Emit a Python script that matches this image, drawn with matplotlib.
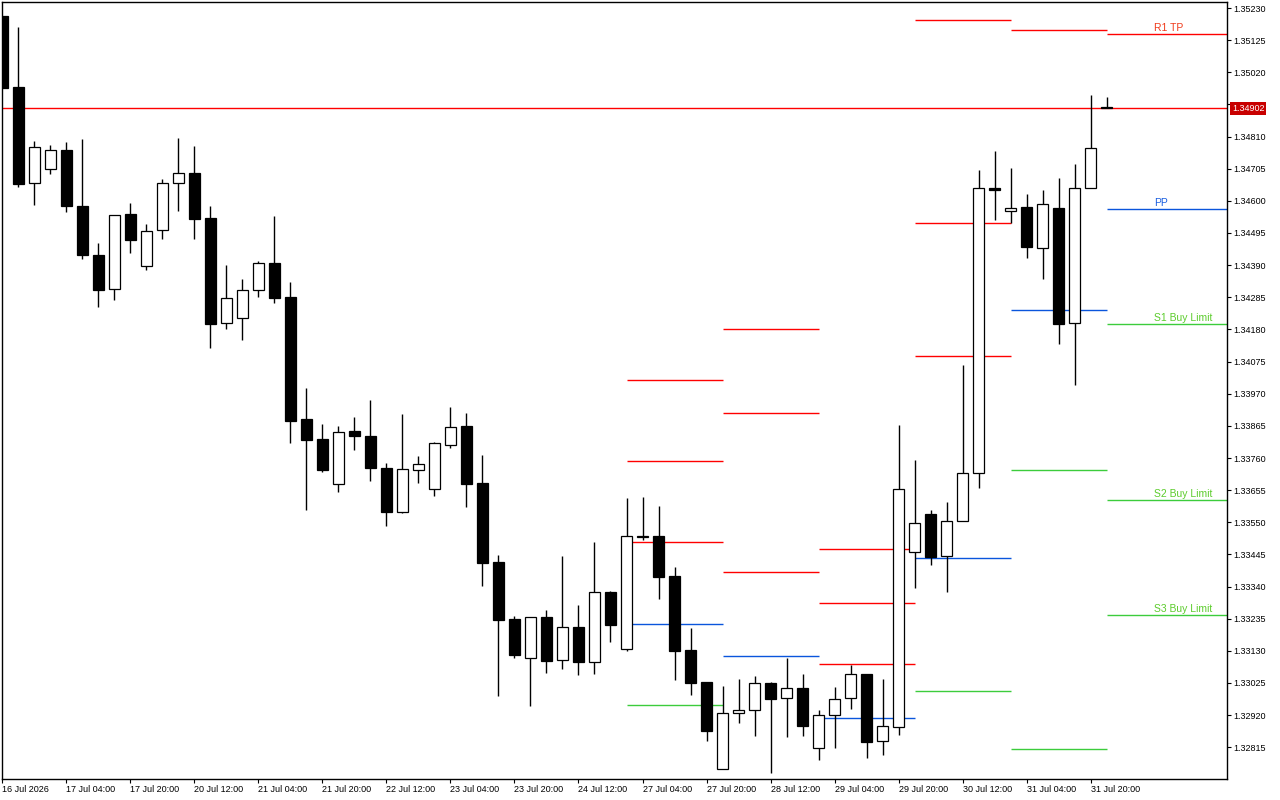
import numpy as np
import matplotlib.pyplot as plt

# 4h bars, 16 Jul 2026 12:00 onwards
opens = [1.35204, 1.34972, 1.34658, 1.34704, 1.34766, 1.34583, 1.34423, 1.34312, 1.34557, 1.34387,
         1.34505, 1.34658, 1.34691, 1.34544, 1.34201, 1.34217, 1.34309, 1.34397, 1.34286, 1.33887,
         1.33822, 1.33675, 1.33848, 1.33832, 1.33727, 1.33584, 1.33721, 1.33659, 1.33802, 1.33865,
         1.33678, 1.33420, 1.33234, 1.33107, 1.33241, 1.33100, 1.33208, 1.33094, 1.33322, 1.33136,
         1.33502, 1.33505, 1.33375, 1.33133, 1.33028, 1.32744, 1.32927, 1.32937, 1.33025, 1.32976,
         1.33009, 1.32813, 1.32920, 1.32976, 1.33054, 1.32836, 1.32881, 1.33453, 1.33577, 1.33440,
         1.33554, 1.33711, 1.34642, 1.34568, 1.34580, 1.34447, 1.34577, 1.34200, 1.34641, 1.34906]
highs = [1.35204, 1.35168, 1.34796, 1.34782, 1.34792, 1.34802, 1.34462, 1.34554, 1.34593, 1.34524,
         1.34671, 1.34805, 1.34779, 1.34583, 1.34390, 1.34345, 1.34404, 1.34551, 1.34335, 1.33989,
         1.33871, 1.33865, 1.33894, 1.33949, 1.33744, 1.33904, 1.33767, 1.33812, 1.33927, 1.33907,
         1.33770, 1.33443, 1.33244, 1.33241, 1.33263, 1.33440, 1.33280, 1.33486, 1.33326, 1.33629,
         1.33633, 1.33603, 1.33404, 1.33205, 1.33028, 1.33015, 1.33038, 1.33048, 1.33028, 1.33107,
         1.33054, 1.32937, 1.33012, 1.33084, 1.33054, 1.33038, 1.33868, 1.33753, 1.33590, 1.33616,
         1.34064, 1.34701, 1.34763, 1.34707, 1.34622, 1.34635, 1.34675, 1.34720, 1.34946, 1.34939]
lows = [1.34969, 1.34645, 1.34586, 1.34688, 1.34564, 1.34410, 1.34253, 1.34276, 1.34430, 1.34374,
        1.34475, 1.34567, 1.34475, 1.34119, 1.34181, 1.34145, 1.34286, 1.34266, 1.33809, 1.33590,
        1.33714, 1.33649, 1.33786, 1.33685, 1.33538, 1.33580, 1.33678, 1.33636, 1.33793, 1.33600,
        1.33342, 1.32983, 1.33107, 1.32950, 1.33058, 1.33071, 1.33051, 1.33054, 1.33159, 1.33130,
        1.33492, 1.33299, 1.33035, 1.32986, 1.32836, 1.32744, 1.32894, 1.32852, 1.32731, 1.32849,
        1.32852, 1.32773, 1.32813, 1.32940, 1.32780, 1.32790, 1.32855, 1.33335, 1.33410, 1.33322,
        1.33554, 1.33662, 1.34537, 1.34528, 1.34413, 1.34346, 1.34133, 1.33998, 1.34641, 1.34902]
closes = [1.34969, 1.34655, 1.34776, 1.34766, 1.34583, 1.34423, 1.34309, 1.34554, 1.34472, 1.34502,
          1.34658, 1.34691, 1.34541, 1.34198, 1.34283, 1.34309, 1.34397, 1.34283, 1.33881, 1.33819,
          1.33721, 1.33845, 1.33832, 1.33727, 1.33584, 1.33724, 1.33740, 1.33809, 1.33861, 1.33675,
          1.33417, 1.33231, 1.33116, 1.33241, 1.33097, 1.33208, 1.33094, 1.33322, 1.33214, 1.33505,
          1.33505, 1.33371, 1.33130, 1.33025, 1.32868, 1.32927, 1.32937, 1.33025, 1.32973, 1.33009,
          1.32885, 1.32920, 1.32973, 1.33054, 1.32832, 1.32885, 1.33659, 1.33548, 1.33437, 1.33554,
          1.33711, 1.34642, 1.34634, 1.34576, 1.34450, 1.34590, 1.34199, 1.34641, 1.34772, 1.34902]

current_price = 1.34902

x_labels = ["16 Jul 2026", "17 Jul 04:00", "17 Jul 20:00", "20 Jul 12:00", "21 Jul 04:00",
            "21 Jul 20:00", "22 Jul 12:00", "23 Jul 04:00", "23 Jul 20:00", "24 Jul 12:00",
            "27 Jul 04:00", "27 Jul 20:00", "28 Jul 12:00", "29 Jul 04:00", "29 Jul 20:00",
            "30 Jul 12:00", "31 Jul 04:00", "31 Jul 20:00"]
y_ticks = [1.32815, 1.32920, 1.33025, 1.33130, 1.33235, 1.33340, 1.33445, 1.33550, 1.33655,
           1.33760, 1.33865, 1.33970, 1.34075, 1.34180, 1.34285, 1.34390, 1.34495, 1.34600,
           1.34705, 1.34810, 1.34915, 1.35020, 1.35125, 1.35230]

# daily pivot levels (bar where each day starts / ends)
seg_start = [39, 45, 51, 57, 63, 69]
seg_end = [45, 51, 57, 63, 69, 77]
nan = np.nan
r3 = [1.34015, 1.34181, 1.33463, 1.35191, nan, nan]
r2 = [1.33750, 1.33907, 1.33286, 1.34528, nan, nan]
r1 = [1.33486, 1.33388, 1.33087, 1.34093, 1.35158, 1.35145]
pp = [1.33218, 1.33113, 1.32911, 1.33433, 1.34243, 1.34573]
s1 = [1.32953, nan, nan, 1.32999, 1.33721, 1.34198]
s2 = [nan, nan, nan, nan, 1.32809, 1.33623]
s3 = [nan, nan, nan, nan, nan, 1.33247]

level_labels = ["R1 TP", "PP", "S1 Buy Limit", "S2 Buy Limit", "S3 Buy Limit"]

RED = "#ff0000"
BLUE = "#0a55dc"
GREEN = "#3ccc3c"

plt.rcParams['font.family'] = ['Liberation Sans', 'DejaVu Sans']

fig = plt.figure(figsize=(12.8, 8), dpi=100)
ax = fig.add_axes([2 / 1280, 21 / 800, 1225 / 1280, 777 / 800])

o = np.array(opens)
h = np.array(highs)
lo = np.array(lows)
c = np.array(closes)
x = np.arange(len(o))
up = c >= o

ax.vlines(x, lo, h, color="black", lw=1.0, zorder=3)
ax.bar(x, np.abs(c - o), 0.66, np.minimum(o, c),
       color=np.where(up, "white", "black"), edgecolor="black", linewidth=0.9, zorder=4)

starts = np.array(seg_start, dtype=float)
ends = np.array(seg_end, dtype=float)
for level, col in [(r3, RED), (r2, RED), (r1, RED), (pp, BLUE), (s1, GREEN), (s2, GREEN), (s3, GREEN)]:
    v = np.array(level)
    m = ~np.isnan(v)
    ax.hlines(v[m], starts[m], ends[m], colors=col, lw=1.0, zorder=2)

ax.axhline(current_price, color=RED, lw=1.0, zorder=2)

last = [r1[-1], pp[-1], s1[-1], s2[-1], s3[-1]]
label_cols = ["#f03a1a", "#1a5fe0", "#5ccc2c", "#5ccc2c", "#5ccc2c"]
for txt, val, col in zip(level_labels, last, label_cols):
    ax.annotate(txt, xy=(71.95, val), xytext=(0, 2), textcoords="offset points",
                ha="left", va="baseline", fontsize=7.5, color=col, zorder=5)

ax.set_xlim(-0.03, 76.53)
ax.set_ylim(1.327114, 1.352496)

ax.yaxis.tick_right()
ax.set_yticks(y_ticks)
ax.set_yticklabels([f"{v:.5f}" for v in y_ticks])
ax.tick_params(axis="y", direction="out", length=3, width=0.8, pad=1.5, labelsize=6.5)

ax.set_xticks(np.arange(0, 4 * len(x_labels), 4))
ax.set_xticklabels(x_labels, ha="left")
ax.tick_params(axis="x", direction="out", length=3, width=0.8, pad=1.5, labelsize=6.5)

for sp in ax.spines.values():
    sp.set_color("black")
    sp.set_linewidth(1.0)

ax.annotate(f"{current_price:.5f}", xy=(1, current_price), xycoords=("axes fraction", "data"),
            xytext=(3.5, 0), textcoords="offset points", ha="left", va="center",
            fontsize=6.5, color="white", annotation_clip=False, zorder=10,
            bbox=dict(boxstyle="square,pad=0.18", fc="#c80000", ec="none"))

fig.savefig("out.png", dpi=100)
